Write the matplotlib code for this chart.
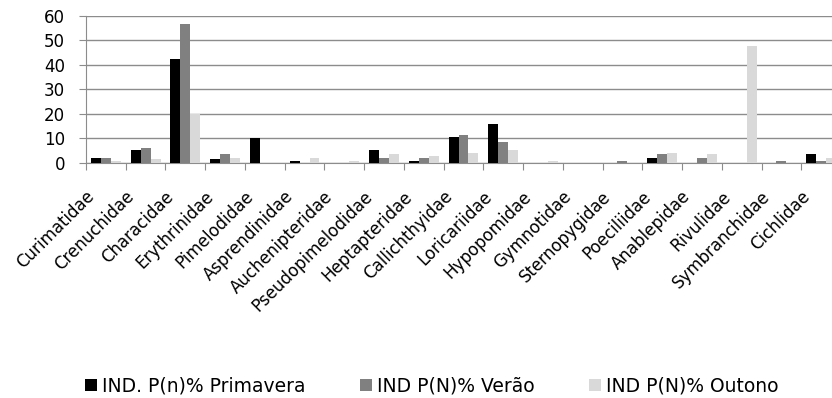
import numpy as np
import matplotlib.pyplot as plt
from matplotlib.transforms import ScaledTranslation

families = ['Curimatidae', 'Crenuchidae', 'Characidae', 'Erythrinidae', 'Pimelodidae',
            'Asprendinidae', 'Auchenipteridae', 'Pseudopimelodidae', 'Heptapteridae',
            'Callichthyidae', 'Loricariidae', 'Hypopomidae', 'Gymnotidae', 'Sternopygidae',
            'Poeciliidae', 'Anablepidae', 'Rivulidae', 'Symbranchidae', 'Cichlidae']

primavera = [1.9, 5.2, 42.3, 1.5, 10.1, 0.7, 0.0, 5.2, 0.7, 10.5,
             15.8, 0.0, 0.0, 0.0, 1.9, 0.0, 0.0, 0.0, 3.5]
verao = [1.9, 6.0, 56.6, 3.5, 0.0, 0.0, 0.0, 1.9, 1.9, 11.3,
         8.4, 0.0, 0.0, 0.5, 3.5, 1.9, 0.0, 0.5, 0.5]
outono = [0.7, 1.5, 19.9, 1.9, 0.0, 1.9, 0.5, 3.5, 2.7, 4.0,
          5.2, 0.5, 0.0, 0.0, 4.0, 3.5, 47.6, 0.0, 1.9]

series = [
    ('IND. P(n)% Primavera', primavera, '#000000'),
    ('IND P(N)% Verão', verao, '#808080'),
    ('IND P(N)% Outono', outono, '#d9d9d9'),
]

fig = plt.figure(figsize=(8.32, 3.98), dpi=100)
# axes runs a bit past the right edge, the last group is cut off
ax = fig.add_axes([86 / 832, 1 - 162.7 / 398, 755 / 832, 147 / 398])

x = np.arange(len(families))
w = 0.25
for i, (label, vals, color) in enumerate(series):
    ax.bar(x + (i - 1) * w, vals, width=w, color=color, label=label, zorder=3)

ax.set_xlim(-0.5, len(families) - 0.5)
ax.set_ylim(0, 60)
ax.set_yticks(range(0, 61, 10))
ax.yaxis.grid(True, color='#8c8c8c', lw=1, zorder=0)

# category names drawn as rotated texts hanging below the axis
ax.set_xticks(np.arange(-0.5, len(families), 1))
ax.set_xticklabels([])
ax.tick_params(axis='x', length=5, color='#8c8c8c')
shift = ScaledTranslation(-14 / 100, -31 / 100, fig.dpi_scale_trans)
for xi, name in zip(x, families):
    ax.text(xi, 0, name, transform=ax.get_xaxis_transform() + shift,
            rotation=45, rotation_mode='anchor', ha='right', va='center',
            fontsize=12, clip_on=False)

ax.tick_params(axis='y', length=5, color='#8c8c8c', labelsize=12, pad=10)

for side in ['top', 'right']:
    ax.spines[side].set_visible(False)
for side in ['left', 'bottom']:
    ax.spines[side].set_color('#8c8c8c')

fig.legend(loc='center left', bbox_to_anchor=(85 / 832, 1 - 386.5 / 398), ncol=3,
           frameon=False, fontsize=13.5, borderpad=0, borderaxespad=0,
           handlelength=0.64, handleheight=0.62, handletextpad=0.27,
           columnspacing=2.9)

fig.savefig('out.png', dpi=100)
